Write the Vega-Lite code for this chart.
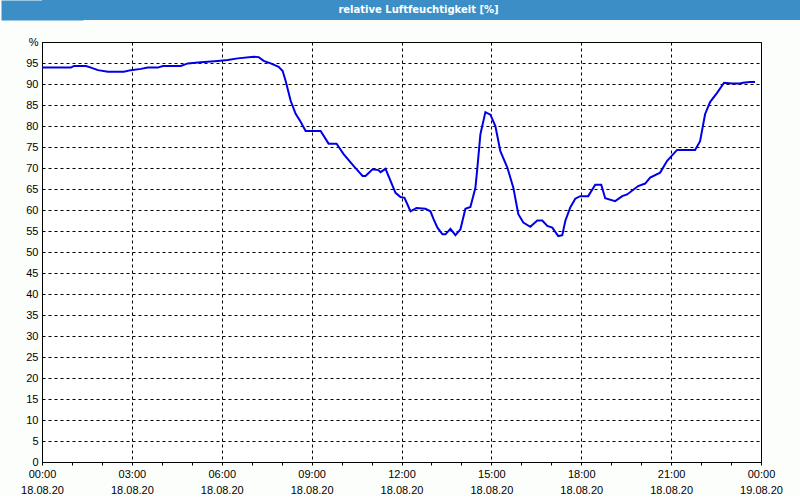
{
  "$schema": "https://vega.github.io/schema/vega-lite/v6.json",
  "background": "#fcfefc",
  "padding": 0,
  "autosize": {"type": "pad"},
  "spacing": 15,
  "config": {"view": {"stroke": null}, "font": "Liberation Sans"},
  "vconcat": [
    {
      "width": 759,
      "height": 20,
      "view": {"fill": "#3c8fc6", "stroke": null},
      "data": {"values": [{"title": "relative Luftfeuchtigkeit [%]"}]},
      "mark": {"type": "text", "color": "white", "fontWeight": "bold", "fontSize": 10, "font": "DejaVu Sans", "dx": -3},
      "encoding": {
        "text": {"field": "title"},
        "y": {
          "field": "title",
          "type": "nominal",
          "axis": {"title": null, "labels": false, "ticks": false, "grid": false, "domain": true, "domainColor": "#3c8fc6", "domainWidth": 82, "domainCap": "butt"}
        }
      }
    },
    {
      "width": 719,
      "height": 420,
      "view": {"fill": "white", "stroke": "black", "strokeWidth": 1},
      "data": {"values": [
        {"h": 0, "rh": 93.9}, {"h": 0.967, "rh": 93.9}, {"h": 1.067, "rh": 94.3}, {"h": 1.467, "rh": 94.3},
        {"h": 1.633, "rh": 93.9}, {"h": 1.867, "rh": 93.3}, {"h": 2.2, "rh": 92.9}, {"h": 2.733, "rh": 92.9},
        {"h": 2.967, "rh": 93.3}, {"h": 3.3, "rh": 93.6}, {"h": 3.533, "rh": 93.9}, {"h": 3.867, "rh": 93.9},
        {"h": 4.033, "rh": 94.3}, {"h": 4.633, "rh": 94.3}, {"h": 4.867, "rh": 94.9}, {"h": 5.3, "rh": 95.2},
        {"h": 5.867, "rh": 95.5}, {"h": 6.2, "rh": 95.7}, {"h": 6.533, "rh": 96.1}, {"h": 7.067, "rh": 96.5},
        {"h": 7.233, "rh": 96.4}, {"h": 7.4, "rh": 95.5}, {"h": 7.633, "rh": 94.9}, {"h": 7.9, "rh": 94.1},
        {"h": 8.033, "rh": 93.1}, {"h": 8.133, "rh": 90.7}, {"h": 8.3, "rh": 86.0}, {"h": 8.467, "rh": 82.9},
        {"h": 8.633, "rh": 81.0}, {"h": 8.8, "rh": 78.8}, {"h": 9.3, "rh": 78.8}, {"h": 9.567, "rh": 75.8},
        {"h": 9.833, "rh": 75.8}, {"h": 10.067, "rh": 73.3}, {"h": 10.4, "rh": 70.5}, {"h": 10.7, "rh": 68.1},
        {"h": 10.8, "rh": 68.1}, {"h": 11.033, "rh": 69.7}, {"h": 11.233, "rh": 69.5}, {"h": 11.3, "rh": 69.0},
        {"h": 11.467, "rh": 69.8}, {"h": 11.8, "rh": 64.1}, {"h": 11.967, "rh": 63.1}, {"h": 12.1, "rh": 62.9},
        {"h": 12.3, "rh": 59.7}, {"h": 12.5, "rh": 60.5}, {"h": 12.8, "rh": 60.3}, {"h": 12.967, "rh": 59.7},
        {"h": 13.067, "rh": 57.9}, {"h": 13.2, "rh": 55.8}, {"h": 13.367, "rh": 54.2}, {"h": 13.467, "rh": 54.2},
        {"h": 13.633, "rh": 55.5}, {"h": 13.8, "rh": 54.0}, {"h": 13.967, "rh": 55.4}, {"h": 14.133, "rh": 60.3},
        {"h": 14.3, "rh": 60.7}, {"h": 14.467, "rh": 65.3}, {"h": 14.533, "rh": 70.1}, {"h": 14.633, "rh": 78.0},
        {"h": 14.8, "rh": 83.3}, {"h": 14.967, "rh": 82.7}, {"h": 15.133, "rh": 80.0}, {"h": 15.3, "rh": 74.0},
        {"h": 15.533, "rh": 70.1}, {"h": 15.733, "rh": 65.3}, {"h": 15.9, "rh": 59.0}, {"h": 16.067, "rh": 57.0},
        {"h": 16.3, "rh": 56.0}, {"h": 16.533, "rh": 57.5}, {"h": 16.7, "rh": 57.5}, {"h": 16.867, "rh": 56.2},
        {"h": 17.033, "rh": 55.8}, {"h": 17.233, "rh": 53.8}, {"h": 17.367, "rh": 54.0}, {"h": 17.467, "rh": 57.4},
        {"h": 17.633, "rh": 60.6}, {"h": 17.8, "rh": 62.7}, {"h": 17.967, "rh": 63.3}, {"h": 18.233, "rh": 63.3},
        {"h": 18.467, "rh": 66.0}, {"h": 18.667, "rh": 66.0}, {"h": 18.8, "rh": 62.8}, {"h": 19.133, "rh": 62.1},
        {"h": 19.367, "rh": 63.3}, {"h": 19.533, "rh": 63.7}, {"h": 19.9, "rh": 65.7}, {"h": 20.133, "rh": 66.3},
        {"h": 20.3, "rh": 67.7}, {"h": 20.633, "rh": 68.9}, {"h": 20.867, "rh": 71.7}, {"h": 21.2, "rh": 74.3},
        {"h": 21.8, "rh": 74.3}, {"h": 21.967, "rh": 76.4}, {"h": 22.133, "rh": 82.8}, {"h": 22.3, "rh": 85.7},
        {"h": 22.533, "rh": 87.9}, {"h": 22.767, "rh": 90.3}, {"h": 23.033, "rh": 90.1}, {"h": 23.3, "rh": 90.1},
        {"h": 23.4, "rh": 90.3}, {"h": 23.633, "rh": 90.5}, {"h": 23.8, "rh": 90.5}
      ]},
      "mark": {"type": "line", "color": "#0000e6", "strokeWidth": 2},
      "encoding": {
        "x": {
          "field": "h",
          "type": "quantitative",
          "scale": {"domain": [0, 24], "nice": false, "zero": false},
          "axis": {
            "title": null,
            "values": [0, 1, 2, 3, 4, 5, 6, 7, 8, 9, 10, 11, 12, 13, 14, 15, 16, 17, 18, 19, 20, 21, 22, 23, 24],
            "labelExpr": "datum.value % 3 == 0 ? [((datum.value % 24) < 10 ? '0' : '') + (datum.value % 24) + ':00', datum.value == 24 ? '19.08.20' : '18.08.20'] : ''",
            "labelOverlap": false,
            "labelFlush": false,
            "labelBound": false,
            "labelFontSize": 11,
            "labelColor": "black",
            "labelPadding": 3,
            "labelLineHeight": 16,
            "domainColor": "black",
            "tickColor": "black",
            "tickSize": 3,
            "grid": true,
            "gridColor": {"condition": {"test": "datum.value % 3 == 0", "value": "black"}, "value": "transparent"},
            "gridDash": [3, 3],
            "gridOpacity": 1
          }
        },
        "y": {
          "field": "rh",
          "type": "quantitative",
          "scale": {"domain": [0, 100], "nice": false},
          "axis": {
            "title": "%",
            "titleFontSize": 1,
            "titleOpacity": 0,
            "titlePadding": 0,
            "minExtent": 40,
            "values": [0, 5, 10, 15, 20, 25, 30, 35, 40, 45, 50, 55, 60, 65, 70, 75, 80, 85, 90, 95, 100],
            "labelExpr": "datum.value == 100 ? '%' : datum.label",
            "labelFontSize": 11,
            "labelColor": "black",
            "labelPadding": 4,
            "labelOverlap": false,
            "ticks": false,
            "domainColor": "black",
            "grid": true,
            "gridColor": "black",
            "gridDash": [3, 3],
            "gridOpacity": 1
          }
        }
      }
    }
  ]
}
